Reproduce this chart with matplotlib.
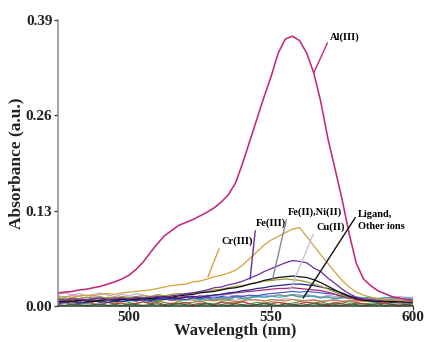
import numpy as np
import matplotlib
matplotlib.use("Agg")
import matplotlib.pyplot as plt
from matplotlib.ticker import FormatStrFormatter

# wavelength grid (nm), 2.5 nm steps
wl = np.arange(475, 600.1, 2.5)

# peak curves
al3 = [0.018, 0.019, 0.020, 0.022, 0.023, 0.025, 0.027, 0.030, 0.033, 0.037,
       0.042, 0.050, 0.060, 0.073, 0.085, 0.096, 0.103, 0.110, 0.114, 0.118,
       0.123, 0.128, 0.134, 0.142, 0.152, 0.168, 0.195, 0.225, 0.255, 0.285,
       0.313, 0.345, 0.364, 0.368, 0.362, 0.345, 0.318, 0.278, 0.228, 0.187,
       0.145, 0.098, 0.058, 0.037, 0.028, 0.021, 0.017, 0.013, 0.011, 0.009,
       0.008]
cr3 = [0.012, 0.013, 0.012, 0.014, 0.015, 0.014, 0.016, 0.017, 0.016, 0.018,
       0.019, 0.020, 0.021, 0.022, 0.024, 0.026, 0.028, 0.029, 0.030, 0.033,
       0.034, 0.037, 0.040, 0.042, 0.045, 0.049, 0.056, 0.065, 0.074, 0.083,
       0.090, 0.095, 0.100, 0.105, 0.107, 0.095, 0.082, 0.070, 0.058, 0.046,
       0.035, 0.026, 0.019, 0.015, 0.012, 0.010, 0.009, 0.008, 0.008, 0.007,
       0.007]
fe3 = [0.009, 0.008, 0.010, 0.009, 0.008, 0.010, 0.011, 0.009, 0.010, 0.011,
       0.010, 0.012, 0.011, 0.012, 0.013, 0.012, 0.014, 0.015, 0.017, 0.018,
       0.020, 0.022, 0.025, 0.026, 0.029, 0.031, 0.034, 0.038, 0.042, 0.047,
       0.051, 0.055, 0.059, 0.062, 0.061, 0.059, 0.052, 0.047, 0.038, 0.031,
       0.023, 0.017, 0.012, 0.010, 0.009, 0.008, 0.009, 0.008, 0.008, 0.007,
       0.007]
fe2 = [0.006, 0.007, 0.006, 0.008, 0.007, 0.006, 0.008, 0.009, 0.008, 0.009,
       0.010, 0.009, 0.011, 0.010, 0.012, 0.013, 0.012, 0.014, 0.015, 0.016,
       0.018, 0.019, 0.020, 0.022, 0.024, 0.025, 0.027, 0.030, 0.032, 0.035,
       0.037, 0.039, 0.040, 0.041, 0.040, 0.039, 0.036, 0.032, 0.027, 0.022,
       0.017, 0.013, 0.010, 0.008, 0.007, 0.007, 0.006, 0.006, 0.007, 0.006,
       0.006]
ni2 = [0.010, 0.009, 0.011, 0.010, 0.012, 0.011, 0.010, 0.012, 0.011, 0.013,
       0.012, 0.013, 0.014, 0.013, 0.015, 0.014, 0.016, 0.017, 0.016, 0.018,
       0.019, 0.020, 0.022, 0.023, 0.025, 0.027, 0.028, 0.030, 0.032, 0.034,
       0.035, 0.036, 0.037, 0.036, 0.035, 0.033, 0.030, 0.027, 0.023, 0.019,
       0.015, 0.012, 0.010, 0.009, 0.008, 0.008, 0.007, 0.008, 0.007, 0.007,
       0.007]
navy = [0.004, 0.005, 0.006, 0.004, 0.005, 0.007, 0.006, 0.005, 0.007, 0.006,
        0.008, 0.007, 0.009, 0.008, 0.010, 0.009, 0.011, 0.010, 0.012, 0.013,
        0.012, 0.014, 0.015, 0.016, 0.018, 0.019, 0.021, 0.022, 0.024, 0.025,
        0.027, 0.028, 0.029, 0.030, 0.030, 0.029, 0.028, 0.026, 0.024, 0.021,
        0.018, 0.014, 0.011, 0.009, 0.007, 0.006, 0.006, 0.005, 0.006, 0.005,
        0.005]
cu2 = [0.007, 0.006, 0.008, 0.007, 0.009, 0.008, 0.007, 0.009, 0.008, 0.010,
       0.009, 0.010, 0.009, 0.011, 0.010, 0.012, 0.011, 0.012, 0.013, 0.012,
       0.014, 0.013, 0.015, 0.016, 0.017, 0.018, 0.019, 0.020, 0.021, 0.022,
       0.023, 0.024, 0.024, 0.025, 0.024, 0.023, 0.022, 0.021, 0.019, 0.016,
       0.013, 0.011, 0.009, 0.008, 0.007, 0.006, 0.007, 0.006, 0.006, 0.005,
       0.005]

# ligand and other ions (near baseline)
lav = [0.016, 0.018, 0.015, 0.017, 0.014, 0.016, 0.018, 0.015, 0.013, 0.016,
       0.014, 0.017, 0.015, 0.013, 0.016, 0.014, 0.012, 0.015, 0.013, 0.014,
       0.012, 0.015, 0.013, 0.014, 0.016, 0.013, 0.015, 0.014, 0.012, 0.015,
       0.013, 0.016, 0.014, 0.015, 0.013, 0.016, 0.014, 0.012, 0.015, 0.013,
       0.014, 0.012, 0.013, 0.011, 0.012, 0.010, 0.012, 0.011, 0.013, 0.012,
       0.012]
green = [0.006, 0.004, 0.007, 0.005, 0.003, 0.006, 0.008, 0.005, 0.004, 0.007,
         0.005, 0.003, 0.006, 0.004, 0.007, 0.005, 0.003, 0.006, 0.004, 0.005,
         0.007, 0.004, 0.003, 0.006, 0.005, 0.004, 0.006, 0.003, 0.005, 0.004,
         0.006, 0.005, 0.003, 0.004, 0.006, 0.005, 0.004, 0.006, 0.003, 0.005,
         0.004, 0.006, 0.005, 0.003, 0.004, 0.005, 0.003, 0.004, 0.005, 0.003,
         0.004]
teal = [0.009, 0.011, 0.008, 0.010, 0.012, 0.009, 0.007, 0.010, 0.012, 0.009,
        0.011, 0.008, 0.010, 0.009, 0.007, 0.010, 0.012, 0.009, 0.008, 0.011,
        0.009, 0.010, 0.008, 0.011, 0.009, 0.012, 0.010, 0.011, 0.013, 0.012,
        0.014, 0.012, 0.013, 0.015, 0.012, 0.014, 0.013, 0.011, 0.012, 0.010,
        0.011, 0.012, 0.010, 0.011, 0.012, 0.010, 0.011, 0.012, 0.010, 0.011,
        0.010]
red = [0.003, 0.005, 0.002, 0.004, 0.006, 0.003, 0.002, 0.005, 0.003, 0.004,
       0.002, 0.004, 0.006, 0.003, 0.005, 0.002, 0.004, 0.003, 0.005, 0.002,
       0.004, 0.003, 0.002, 0.005, 0.003, 0.004, 0.006, 0.003, 0.002, 0.004,
       0.003, 0.005, 0.004, 0.002, 0.003, 0.005, 0.004, 0.003, 0.002, 0.004,
       0.003, 0.002, 0.004, 0.003, 0.002, 0.003, 0.004, 0.002, 0.003, 0.002,
       0.003]
gray = [0.011, 0.009, 0.012, 0.010, 0.008, 0.011, 0.013, 0.010, 0.009, 0.012,
        0.010, 0.008, 0.011, 0.009, 0.012, 0.010, 0.009, 0.011, 0.013, 0.010,
        0.012, 0.011, 0.009, 0.012, 0.010, 0.013, 0.011, 0.012, 0.014, 0.012,
        0.013, 0.015, 0.014, 0.016, 0.015, 0.013, 0.014, 0.012, 0.013, 0.011,
        0.012, 0.010, 0.011, 0.009, 0.010, 0.011, 0.009, 0.010, 0.011, 0.009,
        0.010]
blue = [0.007, 0.005, 0.008, 0.006, 0.009, 0.007, 0.005, 0.008, 0.006, 0.009,
        0.007, 0.010, 0.008, 0.006, 0.009, 0.011, 0.008, 0.010, 0.009, 0.011,
        0.010, 0.012, 0.011, 0.013, 0.012, 0.014, 0.013, 0.015, 0.014, 0.016,
        0.017, 0.018, 0.019, 0.020, 0.019, 0.020, 0.019, 0.018, 0.017, 0.016,
        0.014, 0.012, 0.010, 0.009, 0.008, 0.007, 0.008, 0.006, 0.007, 0.006,
        0.006]
dkgreen = [0.002, 0.001, 0.003, 0.002, 0.001, 0.002, 0.003, 0.001, 0.002, 0.001,
           0.003, 0.002, 0.001, 0.002, 0.003, 0.001, 0.002, 0.003, 0.002, 0.001,
           0.002, 0.003, 0.001, 0.002, 0.001, 0.003, 0.002, 0.001, 0.002, 0.003,
           0.002, 0.001, 0.003, 0.002, 0.001, 0.002, 0.003, 0.002, 0.001, 0.002,
           0.001, 0.003, 0.002, 0.001, 0.002, 0.003, 0.001, 0.002, 0.001, 0.002,
           0.001]
pink = [0.014, 0.012, 0.015, 0.013, 0.011, 0.014, 0.012, 0.010, 0.013, 0.011,
        0.009, 0.012, 0.010, 0.011, 0.009, 0.010, 0.008, 0.011, 0.009, 0.010,
        0.008, 0.010, 0.009, 0.007, 0.009, 0.008, 0.010, 0.008, 0.009, 0.007,
        0.009, 0.008, 0.010, 0.009, 0.007, 0.008, 0.009, 0.007, 0.008, 0.009,
        0.007, 0.008, 0.006, 0.008, 0.007, 0.006, 0.008, 0.007, 0.006, 0.007,
        0.006]
brown = [0.010, 0.008, 0.011, 0.009, 0.007, 0.010, 0.009, 0.011, 0.008, 0.010,
         0.009, 0.007, 0.010, 0.008, 0.006, 0.009, 0.008, 0.007, 0.009, 0.008,
         0.006, 0.008, 0.007, 0.009, 0.008, 0.006, 0.007, 0.009, 0.008, 0.007,
         0.009, 0.008, 0.007, 0.009, 0.008, 0.007, 0.008, 0.006, 0.007, 0.008,
         0.006, 0.007, 0.008, 0.006, 0.007, 0.005, 0.006, 0.007, 0.005, 0.006,
         0.005]

baselines = [(lav, '#b9a4dc'), (pink, '#e58fbf'), (gray, '#8e8e8e'),
             (teal, '#26aaa8'), (brown, '#c77a35'), (blue, '#3552c9'),
             (green, '#3d9b3d'), (red, '#c93333'), (dkgreen, '#1f6f1f')]
peaks = [(cu2, '#a5297c'), (navy, '#26288e'), (ni2, '#9c9a32'),
         (fe2, '#111111'), (fe3, '#6a2d9e'), (cr3, '#d2a13a')]

serif = 'Liberation Serif'

fig = plt.figure(figsize=(4.26, 3.42), dpi=100)
ax = fig.add_axes([0.136, 0.105, 0.834, 0.8365])

for ys, c in baselines:
    ax.plot(wl, ys, color=c, lw=0.8)
for ys, c in peaks:
    ax.plot(wl, ys, color=c, lw=0.9)
ax.plot(wl, al3, color='#c2297c', lw=1.15)

ax.set_xlim(475, 600)
ax.set_ylim(0, 0.39)
ax.set_xticks([500, 550, 600])
ax.set_yticks([0.0, 0.13, 0.26, 0.39])
ax.yaxis.set_major_formatter(FormatStrFormatter('%.2f'))

for s in ['top', 'right']:
    ax.spines[s].set_visible(False)
ax.spines['left'].set_color('#8a8a8a')
ax.spines['left'].set_linewidth(1.1)
ax.spines['bottom'].set_color('#333333')
ax.spines['bottom'].set_linewidth(1.1)
ax.tick_params(axis='both', length=3, width=0.9, pad=1, colors='#333333')
ax.tick_params(axis='x', pad=0.5)
for lab in ax.get_xticklabels() + ax.get_yticklabels():
    lab.set_fontfamily(serif)
    lab.set_fontweight('bold')
    lab.set_fontsize(11)
    lab.set_color('#222222')

ax.set_xlabel('Wavelength (nm)', fontfamily=serif, fontweight='bold',
              fontsize=12, labelpad=-1, color='#222222')
ax.set_ylabel('Absorbance (a.u.)', fontfamily=serif, fontweight='bold',
              fontsize=12.5, labelpad=1, color='#222222')

# labels with leader lines
def label(txt, xy, xytext, col, va='center'):
    ax.annotate(txt, xy=xy, xytext=xytext, fontfamily=serif,
                fontweight='bold', fontsize=7.5, ha='left', va=va,
                linespacing=1.5,
                arrowprops=dict(arrowstyle='-', color=col, lw=1.0,
                                shrinkA=0, shrinkB=0,
                                relpos=(0, 0.5) if va == 'center' else (0, 0.85)))

label('Al(III)', (565.0, 0.318), (570.8, 0.367), '#c2297c')
label('Cr(III)', (527.8, 0.040), (532.7, 0.088), '#d2a13a')
label('Fe(III)', (542.6, 0.037), (544.7, 0.113), '#6a2d9e')
label('Fe(II),Ni(II)', (550.4, 0.035), (556.0, 0.128), '#8a8a8a')
label('Cu(II)', (556.7, 0.022), (565.8, 0.107), '#c4c4dc')
label('Ligand,\nOther ions', (561.3, 0.011), (580.6, 0.131), '#111111', va='top')

fig.savefig('out.png', dpi=100)
